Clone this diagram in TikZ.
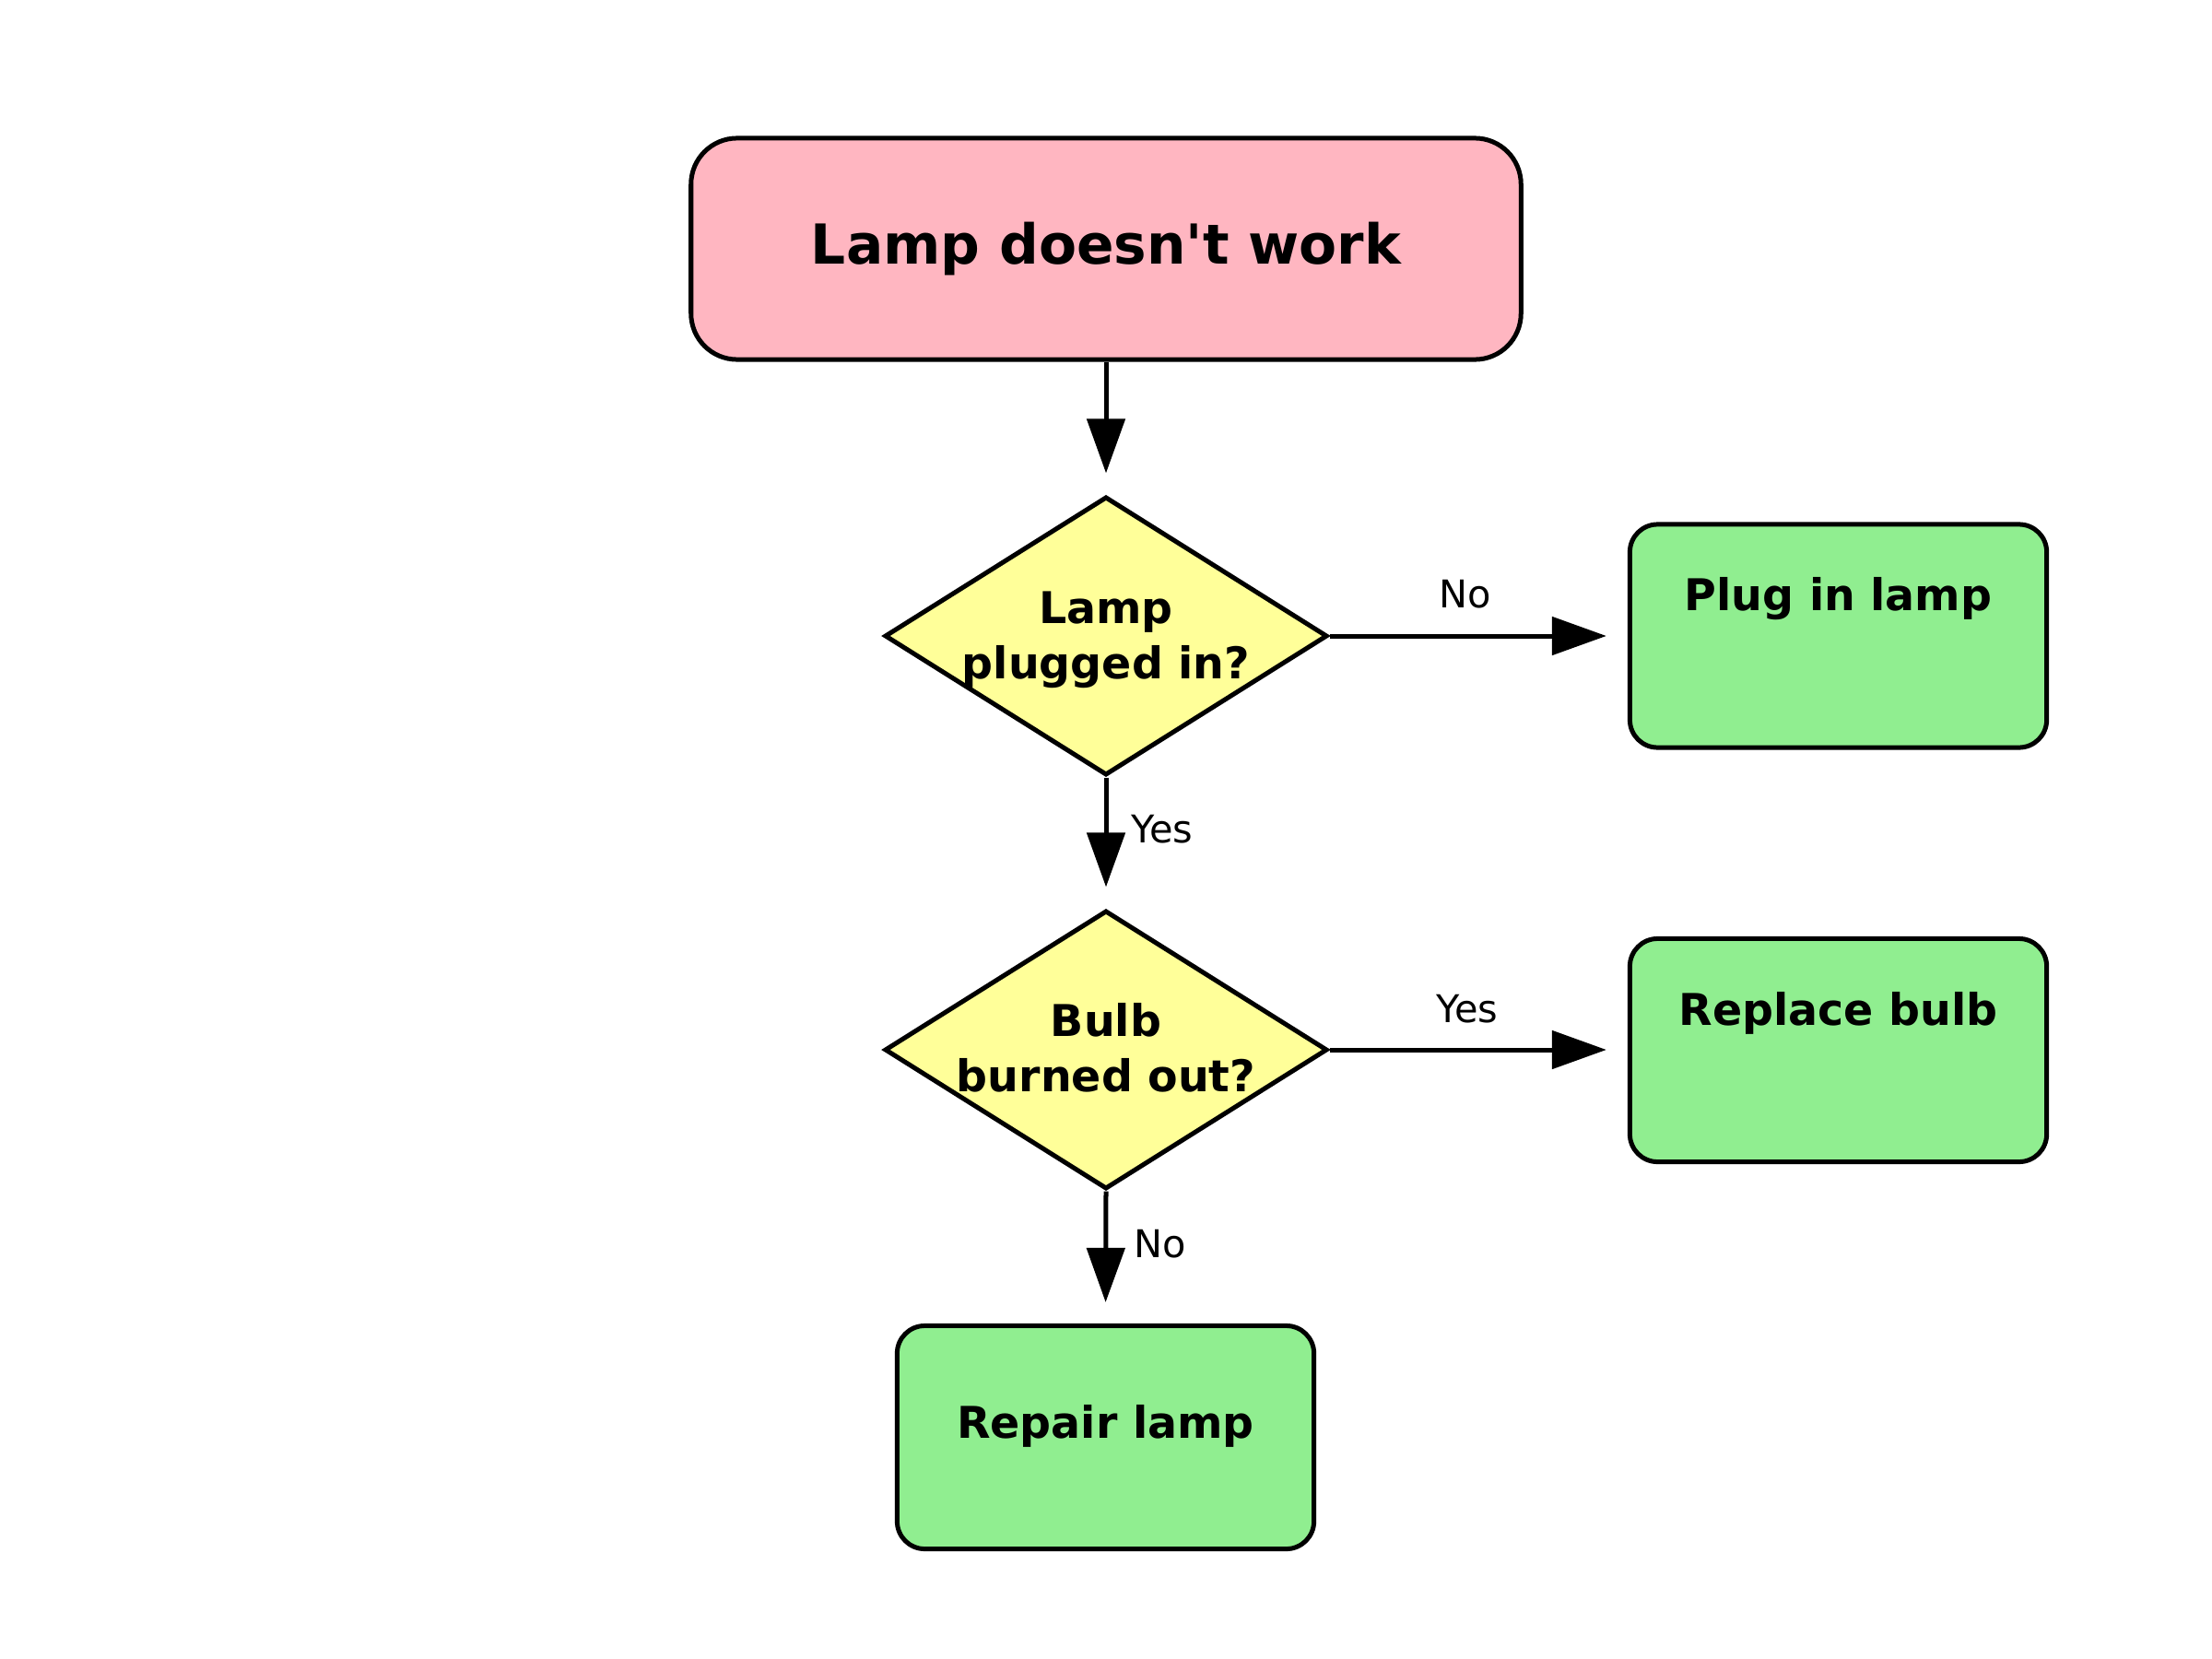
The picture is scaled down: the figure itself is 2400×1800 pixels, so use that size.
\documentclass[tikz,border=0pt]{standalone}
\usepackage{fontspec}
\setmainfont{DejaVu Sans}
\usetikzlibrary{shapes.geometric,arrows.meta}
\definecolor{pinkfill}{HTML}{FFB6C1}
\definecolor{greenfill}{HTML}{90EE90}
\definecolor{yellowfill}{HTML}{FFFF99}
\begin{document}
\begin{tikzpicture}[x=0.01cm,y=-0.01cm,
  startbox/.style={draw,line width=0.05cm,fill=pinkfill,rounded corners=0.5cm,minimum width=9cm,minimum height=2.4cm,inner sep=0pt,font=\fontsize{17}{20}\selectfont\bfseries},
  endbox/.style={draw,line width=0.05cm,fill=greenfill,rounded corners=0.3cm,minimum width=4.52cm,minimum height=2.42cm,inner sep=0pt},
  decision/.style={draw,line width=0.05cm,fill=yellowfill,diamond,minimum width=4.8cm,minimum height=3.02cm,inner sep=0pt},
  nodetext/.style={font=\fontsize{13.5}{17}\selectfont\bfseries,align=center,inner sep=0pt},
  edgelabel/.style={font=\fontsize{11.8}{14}\selectfont,inner sep=0pt},
  flow/.style={line width=0.05cm,-{Triangle[length=0.59cm,width=0.41cm]},shorten >=0.23cm}
]
\path[use as bounding box,fill=white] (0,0) rectangle (2400,1800);

\node[startbox] (start) at (1200,270) {Lamp doesn\textquotesingle t work};

\node[decision] (d1) at (1200,690) {};
\node[nodetext] (d1t) at (1200,694) {Lamp\\plugged in?};

\node[decision] (d2) at (1200,1139) {};
\node[nodetext] (d2t) at (1200,1137) {Bulb\\burned out?};

\node[endbox] (plug) at (1994.5,690) {};
\node[nodetext,anchor=base] (plugt) at (1994.5,662) {Plug in lamp};

\node[endbox] (bulb) at (1994.5,1139.5) {};
\node[nodetext,anchor=base] (bulbt) at (1994.5,1112) {Replace bulb};

\node[endbox] (repair) at (1199.5,1559.5) {};
\node[nodetext,anchor=base] (repairt) at (1199.5,1560) {Repair lamp};

\draw[flow] (start.south) -- (d1.north);
\draw[flow] (d1.east) -- (plug.west);
\draw[flow] (d1.south) -- (d2.north);
\draw[flow] (d2.east) -- (bulb.west |- d2.east);
\draw[flow] (d2.south) -- (repair.north);

\node[edgelabel] (l1) at (1590,645) {No};
\node[edgelabel] (l2) at (1261,900) {Yes};
\node[edgelabel] (l3) at (1592,1095) {Yes};
\node[edgelabel] (l4) at (1259,1350) {No};
\end{tikzpicture}
\end{document}
